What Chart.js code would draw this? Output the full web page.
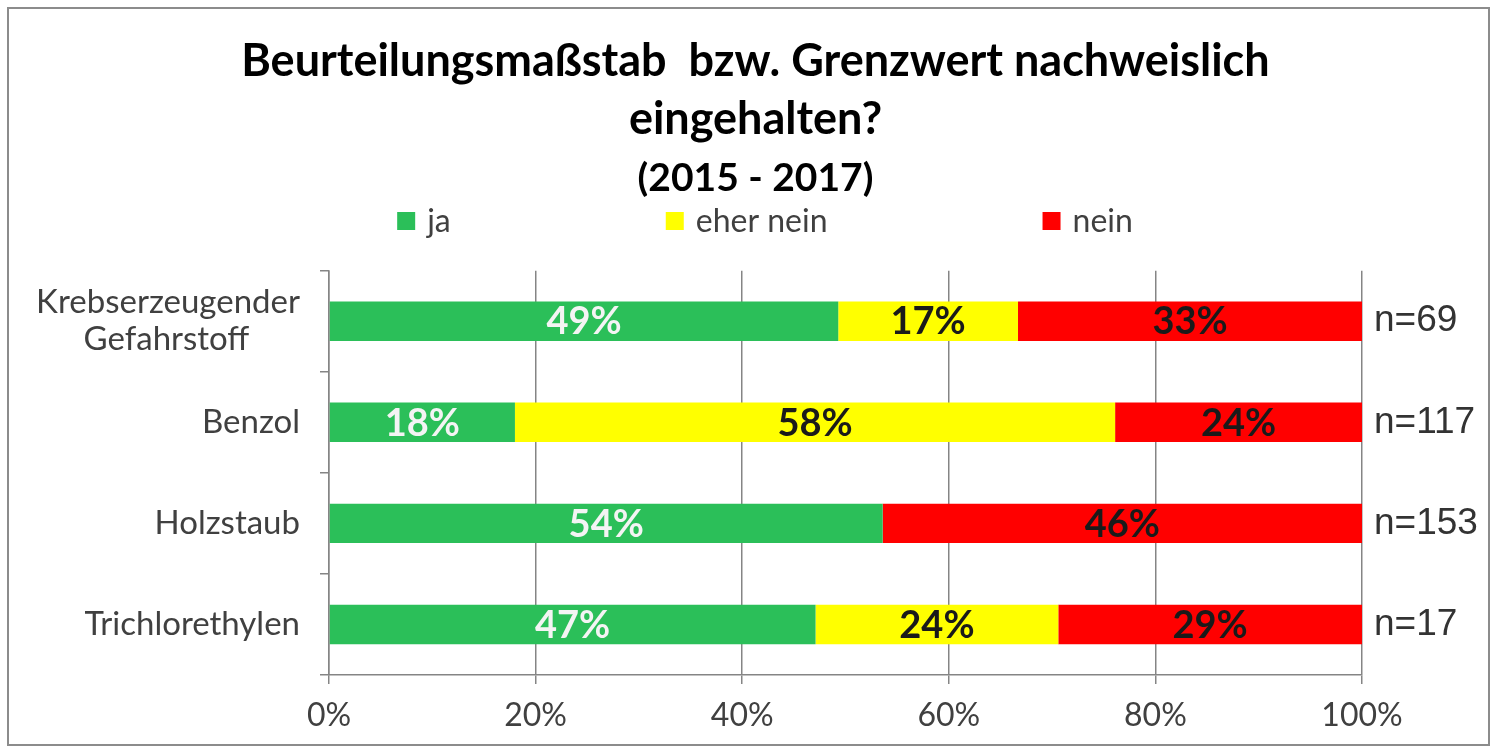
<!DOCTYPE html>
<html>
<head>
<meta charset="utf-8">
<title>Beurteilungsmaßstab bzw. Grenzwert nachweislich eingehalten?</title>
<script src="https://cdn.jsdelivr.net/npm/chart.js@4.4.0/dist/chart.umd.min.js"></script>
<style>
  html, body { margin: 0; padding: 0; background: #fff; }
</style>
</head>
<body>
<canvas id="chart" width="1497" height="753"></canvas>
<script>
const titleLines = ['Beurteilungsmaßstab  bzw. Grenzwert nachweislich', 'eingehalten?'];
const subtitleText = '(2015 - 2017)';
const categories = [['Krebserzeugender', 'Gefahrstoff'], 'Benzol', 'Holzstaub', 'Trichlorethylen'];
const sampleSizes = ['n=69', 'n=117', 'n=153', 'n=17'];
const jaValues = [49.3, 18.0, 53.6, 47.1];
const eherNeinValues = [17.4, 58.1, 0, 23.5];
const neinValues = [33.3, 23.9, 46.4, 29.4];
const xTicks = [0, 20, 40, 60, 80, 100];

const gridGrey = '#858585';
const textGrey = '#404040';

// white background and the thin frame around the whole chart
const framePlugin = {
    id: 'frame',
    beforeDraw(chart) {
        const ctx = chart.ctx;
        ctx.save();
        ctx.fillStyle = '#fff';
        ctx.fillRect(0, 0, chart.width, chart.height);
        ctx.strokeStyle = '#8c8c8c';
        ctx.lineWidth = 2;
        ctx.strokeRect(8, 8, chart.width - 16, chart.height - 16);
        ctx.restore();
    }
};

// legend in one wide row, like the original
const legendRow = {
    id: 'legendRow',
    afterDraw(chart) {
        const ctx = chart.ctx;
        const box = 18, textGap = 12, itemGap = 215;
        ctx.save();
        ctx.font = '32px Lato';
        const items = chart.data.datasets.map(ds => ({
            text: ds.label,
            color: ds.backgroundColor,
            w: box + textGap + ctx.measureText(ds.label).width
        }));
        const total = items.reduce((s, it) => s + it.w, 0) + itemGap * (items.length - 1);
        let x = 765 - total / 2;
        const y = 221;
        ctx.textBaseline = 'middle';
        items.forEach(it => {
            ctx.fillStyle = it.color;
            ctx.fillRect(x, y - box / 2, box, box);
            ctx.fillStyle = textGrey;
            ctx.fillText(it.text, x + box + textGap, y + 1);
            x += it.w + itemGap;
        });
        ctx.restore();
    }
};

// percentage labels inside the bar segments
const barLabels = {
    id: 'barLabels',
    afterDatasetsDraw(chart) {
        const ctx = chart.ctx;
        ctx.save();
        ctx.font = 'bold 38px Lato';
        ctx.textAlign = 'center';
        ctx.textBaseline = 'middle';
        chart.data.datasets.forEach((ds, i) => {
            chart.getDatasetMeta(i).data.forEach((bar, j) => {
                const v = ds.data[j];
                if (!v) return;
                const p = bar.getCenterPoint();
                ctx.fillStyle = ds.labelColor;
                ctx.fillText(Math.round(v) + '%', p.x, p.y + 1);
            });
        });
        ctx.restore();
    }
};

function centerLines(chart, lines, font) {
    // pad the shorter lines so a two-line label looks centred
    const ctx = chart.ctx;
    ctx.save();
    ctx.font = font;
    const widths = lines.map(l => ctx.measureText(l).width);
    const space = ctx.measureText(' ').width;
    const maxW = Math.max(...widths);
    ctx.restore();
    return lines.map((l, i) => l + ' '.repeat(Math.round((maxW - widths[i]) / 2 / space)));
}

const chart = new Chart(document.getElementById('chart'), {
    type: 'bar',
    data: {
        labels: categories,
        datasets: [
            { label: 'ja', data: jaValues, backgroundColor: '#2bbf59', labelColor: '#f4f4f4' },
            { label: 'eher nein', data: eherNeinValues, backgroundColor: '#ffff00', labelColor: '#1a1a1a' },
            { label: 'nein', data: neinValues, backgroundColor: '#ff0000', labelColor: '#1a1a1a' }
        ]
    },
    options: {
        indexAxis: 'y',
        responsive: false,
        animation: false,
        devicePixelRatio: 1,
        datasets: {
            bar: { categoryPercentage: 1, barPercentage: 0.39, borderWidth: 0 }
        },
        layout: { padding: { left: 14, right: 0, top: 0, bottom: 0 } },
        plugins: {
            legend: { display: false },
            tooltip: { enabled: false },
            title: {
                display: true,
                text: titleLines,
                color: '#000',
                font: { family: 'Lato', size: 45, weight: 'bold', lineHeight: 1.3 },
                padding: { top: 32, bottom: 0 }
            },
            subtitle: {
                display: true,
                text: subtitleText,
                color: '#000',
                font: { family: 'Lato', size: 39, weight: 'bold', lineHeight: 1.3 },
                padding: { top: 4, bottom: 67 }
            }
        },
        scales: {
            x: {
                type: 'linear',
                stacked: true,
                min: 0,
                max: 100,
                afterBuildTicks: s => { s.ticks = xTicks.map(v => ({ value: v })); },
                afterFit: s => { s.height = 78; },
                grid: { color: gridGrey, lineWidth: 1.5, tickLength: 9 },
                border: { color: gridGrey, width: 1.5 },
                ticks: {
                    callback: v => v + '%',
                    font: { family: 'Lato', size: 32 },
                    color: textGrey,
                    padding: 12
                }
            },
            y: {
                type: 'category',
                stacked: true,
                afterFit: s => { s.width = 315; },
                grid: { offset: true, drawOnChartArea: false, tickLength: 9, color: gridGrey, lineWidth: 1.5 },
                border: { color: gridGrey, width: 1.5 },
                ticks: {
                    font: { family: 'Lato', size: 33, lineHeight: 1.12 },
                    color: textGrey,
                    padding: 20,
                    callback: function (value, index) {
                        const lbl = categories[index];
                        return Array.isArray(lbl) ? centerLines(this.chart, lbl, '33px Lato') : lbl;
                    }
                }
            },
            y2: {
                type: 'category',
                position: 'right',
                labels: sampleSizes,
                offset: true,
                afterFit: s => { s.width = 135; },
                grid: { display: false },
                border: { display: false },
                ticks: {
                    font: { family: 'Liberation Sans', size: 37 },
                    color: '#333',
                    padding: 4
                }
            }
        }
    },
    plugins: [framePlugin, legendRow, barLabels]
});
</script>
</body>
</html>
